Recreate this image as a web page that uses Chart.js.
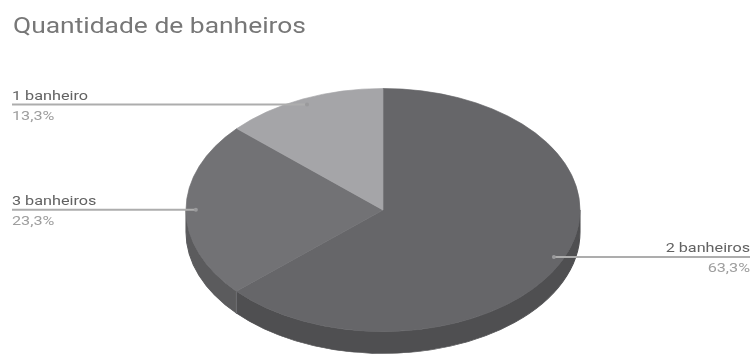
<!DOCTYPE html>
<html>
<head>
<meta charset="utf-8">
<script src="https://cdn.jsdelivr.net/npm/chart.js@4.4.1/dist/chart.umd.min.js"></script>
<style>
  html, body { margin: 0; padding: 0; background: #fff; overflow: hidden; }
  #wrap { position: relative; width: 754px; height: 355px; }
</style>
</head>
<body>
<div id="wrap"><canvas id="chart"></canvas></div>
<script>
const title = 'Quantidade de banheiros';
const categories = ['2 banheiros', '3 banheiros', '1 banheiro'];
const percentages = [63.3, 23.3, 13.3];
const topColors = ['#666669', '#727275', '#a5a5a8'];
const sideColors = ['#4f4f51', '#5b5b5d', '#78787b'];

// look of the tilted pie
const RX = 197, RY = 121.5, DEPTH = 22;
const TEXT_STRETCH = 1.2; // the source text is a bit wide

const fmt = v => v.toFixed(1).replace('.', ',') + '%';

function geom(chart) {
  const arcs = chart.getDatasetMeta(0).data;
  const a = arcs[0];
  return { arcs, cx: a.x, cy: a.y, R: a.outerRadius, kx: RX / a.outerRadius, ky: RY / a.outerRadius };
}

function wideText(ctx, text, x, y, stretch) {
  ctx.save();
  ctx.translate(x, y);
  ctx.scale(stretch, 1);
  ctx.fillText(text, 0, 0);
  ctx.restore();
}

const pie3d = {
  id: 'pie3d',
  beforeDatasetsDraw(chart) {
    const ctx = chart.ctx;
    const { arcs, cx, cy, R, kx, ky } = geom(chart);
    ctx.save();
    ctx.translate(cx, cy);
    ctx.scale(kx, ky);
    ctx.translate(-cx, -cy);

    const dy = DEPTH / ky;
    // side band, only the front half (0..PI) shows
    arcs.forEach((arc, i) => {
      let s = arc.startAngle, e = arc.endAngle;
      const segs = [[s, e], [s - 2 * Math.PI, e - 2 * Math.PI]];
      segs.forEach(([a1, a2]) => {
        const lo = Math.max(a1, 0), hi = Math.min(a2, Math.PI);
        if (hi <= lo) return;
        ctx.beginPath();
        ctx.arc(cx, cy, R, lo, hi);
        ctx.arc(cx, cy + dy, R, hi, lo, true);
        ctx.closePath();
        ctx.fillStyle = sideColors[i];
        ctx.fill();
        ctx.strokeStyle = sideColors[i];
        ctx.lineWidth = 0.8;
        ctx.stroke();
      });
    });
    // seams on the side
    arcs.forEach(arc => {
      let a = arc.endAngle % (2 * Math.PI);
      if (a > 0.05 && a < Math.PI - 0.05) {
        const sx = cx + kx * R * Math.cos(a), sy = cy + ky * R * Math.sin(a);
        ctx.save();
        ctx.setTransform(1, 0, 0, 1, 0, 0);
        ctx.beginPath();
        ctx.moveTo(sx, sy);
        ctx.lineTo(sx, sy + DEPTH);
        ctx.strokeStyle = '#707073';
        ctx.lineWidth = 1;
        ctx.stroke();
        ctx.restore();
      }
    });
  },
  afterDatasetsDraw(chart) {
    const ctx = chart.ctx;
    ctx.restore();
    const { arcs, cx, cy, R, kx, ky } = geom(chart);

    ctx.save();
    ctx.font = '22px Roboto';
    ctx.fillStyle = '#777777';
    ctx.textBaseline = 'alphabetic';
    wideText(ctx, title, 13, 33, 1.2);

    arcs.forEach((arc, i) => {
      const mid = (arc.startAngle + arc.endAngle) / 2;
      const px = cx + kx * R * 0.95 * Math.cos(mid);
      const py = cy + ky * R * 0.95 * Math.sin(mid);
      const left = Math.cos(mid) < 0;
      const x0 = left ? 12 : 750;

      ctx.beginPath();
      ctx.moveTo(px, py);
      ctx.lineTo(x0, py);
      ctx.strokeStyle = '#adadad';
      ctx.lineWidth = 2;
      ctx.stroke();

      ctx.beginPath();
      ctx.arc(px, py, 2, 0, 2 * Math.PI);
      ctx.fillStyle = '#9a9a9c';
      ctx.fill();

      ctx.textAlign = left ? 'left' : 'right';
      ctx.font = '13.5px Roboto';
      ctx.fillStyle = '#626262';
      wideText(ctx, categories[i], x0, py - 5, TEXT_STRETCH);
      ctx.fillStyle = '#9e9e9e';
      wideText(ctx, fmt(percentages[i]), x0, py + 15, TEXT_STRETCH);
    });
    ctx.restore();
  }
};

new Chart(document.getElementById('chart'), {
  type: 'pie',
  data: {
    labels: categories,
    datasets: [{
      data: percentages,
      backgroundColor: topColors,
      borderColor: topColors,
      borderWidth: 0.6,
      clip: false
    }]
  },
  options: {
    responsive: true,
    maintainAspectRatio: false,
    animation: false,
    events: [],
    layout: { padding: { top: 65, left: 185, right: 173, bottom: 0 } },
    plugins: { legend: { display: false }, tooltip: { enabled: false }, title: { display: false } }
  },
  plugins: [pie3d]
});
</script>
</body>
</html>
